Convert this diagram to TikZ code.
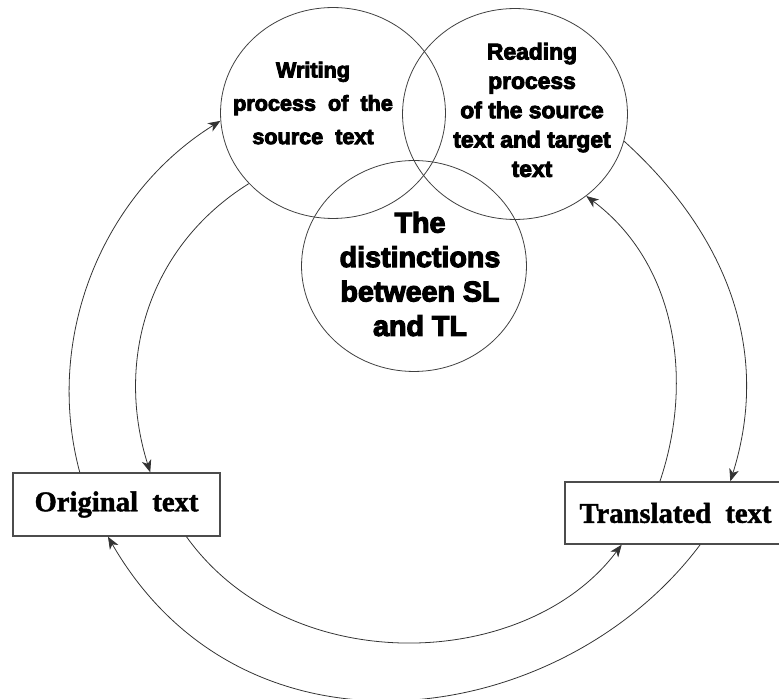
\documentclass[tikz,border=0pt]{standalone}
\usepackage{fontspec}
\usetikzlibrary{shapes.geometric,arrows.meta,calc}
\newfontfamily\heavyfont{Liberation Sans Bold}[FakeBold=4]
\newfontfamily\boxfont{Liberation Serif Bold}[FakeBold=1.5]
\begin{document}
\begin{tikzpicture}[x=0.02cm,y=-0.02cm,
  bubble/.style={ellipse,draw=black!75,line width=0.45pt,minimum width=4.5cm,minimum height=4.22cm,inner sep=0pt},
  bubbletext/.style={align=center,inner sep=0pt},
  textbox/.style={draw=black!70,line width=0.8pt,inner sep=0pt,font=\boxfont\fontsize{16.3}{19}\selectfont},
  link/.style={draw=black!80,line width=0.45pt},
  arr/.style={link,-{Stealth[length=7pt,width=5.5pt,inset=2pt]}}]
\useasboundingbox (0,0) rectangle (779,699);
\clip (0,0) rectangle (779,699);
\fill[white] (0,0) rectangle (779,699);
% bubbles
\node[bubble] (w) at (333,113) {};
\node[bubble] (r) at (515,114) {};
\node[bubble] (d) at (414,266) {};
\node[bubbletext,font=\heavyfont\fontsize{12.3}{19}\selectfont] (wt) at (313,103)
  {Writing\\process~~of~~the\\source~~text};
\node[bubbletext,font=\heavyfont\fontsize{13}{16.7}\selectfont] (rt) at (532,110)
  {Reading\\process\\of the source\\text and target\\text};
\node[bubbletext,font=\heavyfont\fontsize{16.3}{19.6}\selectfont] (dt) at (420,274)
  {The\\distinctions\\between SL\\and TL};
% boxes
\node[textbox,minimum width=4.14cm,minimum height=1.26cm] (o) at (116.5,504.5) {Original~~text};
\node[textbox,minimum width=4.42cm,minimum height=1.24cm] (t) at (675.5,513) {Translated~~text};
% connectors
\draw[arr] ($(o.north west)!0.3237!(o.north east)$) .. controls +(-36.1,-134.1) and +(-118.5,73.9) .. (w.184);
\draw[arr] (w.220) .. controls +(-99.8,62.2) and +(-35.5,-113) .. ($(o.north west)!0.6618!(o.north east)$);
\draw[arr] (r.346) .. controls +(101,91.5) and +(41.7,-132.6) .. ($(t.north west)!0.7466!(t.north east)$);
\draw[arr] ($(t.north west)!0.43!(t.north east)$) .. controls +(34.4,-101.8) and +(89.6,67.2) .. (r.311);
\draw[arr] ($(o.south west)!0.8357!(o.south east)$) .. controls +(103.1,143.9) and +(-95.1,126.8) .. ($(t.south west)!0.258!(t.south east)$);
\draw[arr] ($(t.south west)!0.611!(t.south east)$) .. controls +(-138.2,184.3) and +(138.3,239.4) .. ($(o.south west)!0.459!(o.south east)$);
\end{tikzpicture}
\end{document}
